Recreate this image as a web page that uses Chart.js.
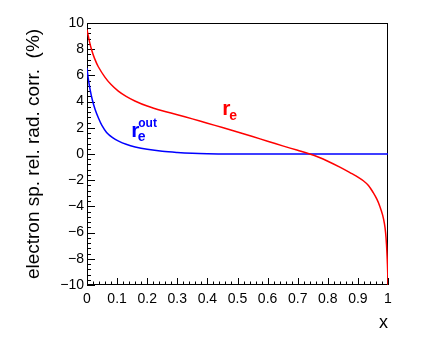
<!DOCTYPE html>
<html>
<head>
<meta charset="UTF-8">
<title>electron sp. rel. rad. corr.</title>
<script src="https://cdn.jsdelivr.net/npm/chart.js@4.4.0/dist/chart.umd.min.js"></script>
<style>
  body { margin: 0; background: #fff; }
</style>
</head>
<body>
<canvas id="myChart" width="436" height="345"></canvas>
<script>
// values
var redX = [0, 0.008, 0.0155, 0.025, 0.0376, 0.06, 0.08, 0.104, 0.13, 0.159, 0.2, 0.25, 0.3, 0.35, 0.4, 0.45, 0.5, 0.55, 0.6, 0.65, 0.7, 0.74, 0.77, 0.8, 0.84, 0.88, 0.9, 0.918, 0.935, 0.951, 0.963, 0.973, 0.982, 0.988, 0.992, 0.995, 0.997, 0.999, 1.0];
var redY = [9.5, 8.6, 7.94, 7.3, 6.66, 5.85, 5.3, 4.8, 4.4, 4.05, 3.66, 3.3, 3.0, 2.68, 2.35, 2.02, 1.68, 1.33, 0.98, 0.62, 0.28, 0.0, -0.25, -0.55, -1.0, -1.5, -1.76, -2.04, -2.4, -2.95, -3.45, -4.0, -4.65, -5.3, -6.0, -6.9, -7.8, -9.0, -10];
var blueX = [0, 0.004, 0.01, 0.018, 0.027, 0.038, 0.049, 0.065, 0.085, 0.105, 0.13, 0.16, 0.2, 0.25, 0.3, 0.35, 0.4, 0.46, 0.55, 0.7, 0.85, 1.0];
var blueY = [6.55, 5.8, 4.95, 4.1, 3.4, 2.75, 2.2, 1.65, 1.25, 0.98, 0.74, 0.54, 0.36, 0.21, 0.12, 0.06, 0.025, 0.0, 0.0, 0.0, 0.0, 0.0];
var xTicks = [0, 0.1, 0.2, 0.3, 0.4, 0.5, 0.6, 0.7, 0.8, 0.9, 1];
var xTickLabels = ['0', '0.1', '0.2', '0.3', '0.4', '0.5', '0.6', '0.7', '0.8', '0.9', '1'];
var yTicks = [-10, -8, -6, -4, -2, 0, 2, 4, 6, 8, 10];
var yTickLabels = ['\u221210', '\u22128', '\u22126', '\u22124', '\u22122', '0', '2', '4', '6', '8', '10'];

var FONT = '"Liberation Sans", Arial, Helvetica, sans-serif';

function toPoints(xs, ys) {
  return xs.map(function (x, i) { return { x: x, y: ys[i] }; });
}

// ROOT style frame, ticks pointing inside
var frameTicks = {
  id: 'frameTicks',
  beforeDatasetsDraw: function (chart) {
    var ctx = chart.ctx, a = chart.chartArea;
    var xs = chart.scales.x, ys = chart.scales.y;
    ctx.save();
    ctx.strokeStyle = '#000';
    ctx.lineWidth = 1;
    ctx.strokeRect(a.left + 0.5, a.top + 0.5, a.right - a.left - 1, a.bottom - a.top - 1);
    ctx.beginPath();
    for (var k = 0; k <= 50; k++) {
      var px = Math.round(xs.getPixelForValue(k * 0.02)) + 0.5;
      var len = (k % 5 === 0) ? 7 : 3.5;
      ctx.moveTo(px, a.bottom);
      ctx.lineTo(px, a.bottom - len);
    }
    for (var j = 0; j <= 50; j++) {
      var py = Math.round(ys.getPixelForValue(-10 + j * 0.4)) + 0.5;
      var ylen = (j % 5 === 0) ? 8 : 4;
      ctx.moveTo(a.left, py);
      ctx.lineTo(a.left + ylen, py);
    }
    ctx.stroke();
    ctx.restore();
  }
};

// curve labels r_e and r_e^out
var curveLabels = {
  id: 'curveLabels',
  afterDatasetsDraw: function (chart) {
    var ctx = chart.ctx;
    var xs = chart.scales.x, ys = chart.scales.y;
    ctx.save();
    ctx.textBaseline = 'alphabetic';
    ctx.textAlign = 'left';

    var rx = xs.getPixelForValue(0.449), ry = ys.getPixelForValue(2.95);
    ctx.fillStyle = '#ff0000';
    ctx.font = 'bold 21px ' + FONT;
    ctx.fillText('r', rx, ry);
    ctx.font = 'bold 14px ' + FONT;
    ctx.fillText('e', rx + 7, ry + 5);

    var bx = xs.getPixelForValue(0.147), by = ys.getPixelForValue(1.3);
    ctx.fillStyle = '#0000ff';
    ctx.font = 'bold 21px ' + FONT;
    ctx.fillText('r', bx, by);
    ctx.font = 'bold 14px ' + FONT;
    ctx.fillText('e', bx + 6.5, by + 4);
    ctx.font = 'bold 12px ' + FONT;
    ctx.fillText('out', bx + 7, by - 10);
    ctx.restore();
  }
};

var ctx = document.getElementById('myChart');
var myChart = new Chart(ctx, {
  type: 'scatter',
  data: {
    datasets: [{
      label: 'r_e',
      data: toPoints(redX, redY),
      showLine: true,
      borderColor: '#ff0000',
      borderWidth: 1.5,
      pointRadius: 0,
      tension: 0.35
    }, {
      label: 'r_e^out',
      data: toPoints(blueX, blueY),
      showLine: true,
      borderColor: '#0000ff',
      borderWidth: 1.5,
      pointRadius: 0,
      tension: 0.35
    }]
  },
  options: {
    responsive: false,
    animation: false,
    events: [],
    layout: { padding: { top: 23, right: 48, left: 0, bottom: 0 } },
    plugins: {
      legend: { display: false },
      tooltip: { enabled: false }
    },
    scales: {
      x: {
        type: 'linear',
        min: 0,
        max: 1,
        grid: { display: false, drawTicks: false },
        border: { display: false },
        afterBuildTicks: function (s) { s.ticks = xTicks.map(function (v) { return { value: v }; }); },
        afterFit: function (s) { s.height = 60; },
        ticks: {
          padding: 6,
          color: '#000',
          maxRotation: 0,
          autoSkip: false,
          font: { family: FONT, size: 14 },
          callback: function (v, i) { return xTickLabels[i]; }
        },
        title: {
          display: true,
          text: 'x',
          align: 'end',
          color: '#000',
          font: { family: FONT, size: 18 },
          padding: { top: 0, bottom: 11 }
        }
      },
      y: {
        type: 'linear',
        min: -10,
        max: 10,
        grid: { display: false, drawTicks: false },
        border: { display: false },
        afterBuildTicks: function (s) { s.ticks = yTicks.map(function (v) { return { value: v }; }); },
        afterFit: function (s) { s.width = 87; },
        ticks: {
          padding: 3,
          color: '#000',
          autoSkip: false,
          font: { family: FONT, size: 14 },
          callback: function (v, i) { return yTickLabels[i]; }
        },
        title: {
          display: true,
          text: 'electron sp. rel. rad. corr.  (%)',
          color: '#000',
          font: { family: FONT, size: 19 },
          padding: { top: 22, bottom: 0 }
        }
      }
    }
  },
  plugins: [frameTicks, curveLabels]
});
</script>
</body>
</html>
